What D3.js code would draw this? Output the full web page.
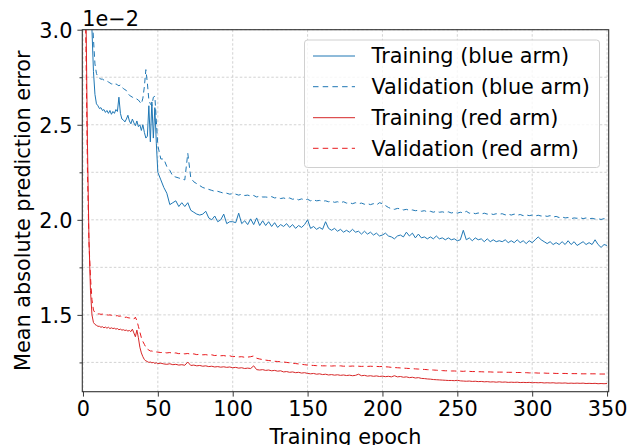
<!DOCTYPE html>
<html><head><meta charset="utf-8">
<script src="https://cdn.jsdelivr.net/npm/d3@7/dist/d3.min.js"></script>
<style>body{margin:0;background:#fff}svg{display:block}text{font-family:"DejaVu Sans",sans-serif;fill:#000}</style>
</head><body><svg id="c" width="640" height="445"></svg>
<script>
// epochs: 1..50 every epoch, then 52..350 every second epoch
const epochs = [];
for (let e = 1; e <= 50; e++) epochs.push(e);
for (let e = 52; e <= 350; e += 2) epochs.push(e);

const trainBlue = [
4.2,3.8,3.55,3.35,3.18,3.0,2.78,2.66,2.61,2.60,
2.585,2.59,2.575,2.58,2.565,2.575,2.56,2.575,2.555,2.57,
2.56,2.58,2.57,2.645,2.56,2.53,2.525,2.515,2.53,2.55,
2.52,2.505,2.53,2.51,2.495,2.52,2.49,2.50,2.47,2.50,
2.46,2.43,2.44,2.60,2.41,2.62,2.43,2.59,2.40,2.25,
2.21,2.17,2.14,2.08,2.09,2.10,2.07,2.09,2.07,2.09,
2.05,2.04,2.03,2.025,2.03,2.045,2.01,2.00,2.02,1.99,
2.00,2.03,1.98,1.99,1.99,1.985,2.035,1.98,1.995,1.975,
2.005,1.975,2.01,1.97,1.995,1.97,1.99,1.965,1.985,1.96,
1.975,1.965,1.98,1.96,1.975,1.955,1.97,1.96,1.975,2.0,
1.955,1.965,1.95,1.96,1.95,1.99,1.955,1.945,1.955,1.94,
1.95,1.935,1.945,1.935,1.95,1.935,1.94,1.925,1.94,1.925,
1.935,1.92,1.93,1.915,1.92,1.93,1.915,1.91,1.90,1.915,
1.92,1.91,1.935,1.915,1.93,1.905,1.925,1.905,1.91,1.90,
1.91,1.90,1.915,1.90,1.905,1.895,1.905,1.895,1.90,1.89,
1.895,1.945,1.895,1.905,1.89,1.905,1.895,1.90,1.885,1.90,
1.885,1.895,1.885,1.89,1.885,1.895,1.88,1.89,1.88,1.895,
1.88,1.89,1.875,1.89,1.88,1.895,1.91,1.895,1.885,1.875,
1.885,1.87,1.88,1.87,1.885,1.87,1.89,1.87,1.885,1.865,
1.875,1.885,1.87,1.88,1.87,1.895,1.87,1.855,1.87,1.865];

const valBlue = [
4.5,4.0,3.7,3.5,3.3,3.12,2.95,2.82,2.77,2.75,
2.745,2.74,2.74,2.735,2.73,2.73,2.725,2.72,2.715,2.715,
2.71,2.715,2.71,2.705,2.71,2.70,2.69,2.685,2.68,2.665,
2.655,2.65,2.645,2.64,2.64,2.635,2.63,2.62,2.61,2.64,
2.70,2.79,2.72,2.63,2.61,2.60,2.645,2.65,2.52,2.39,
2.32,2.32,2.28,2.26,2.23,2.225,2.22,2.215,2.21,2.35,
2.22,2.20,2.19,2.18,2.17,2.165,2.16,2.155,2.15,2.15,
2.145,2.14,2.14,2.135,2.138,2.135,2.13,2.135,2.128,2.13,
2.125,2.128,2.12,2.125,2.12,2.12,2.118,2.122,2.115,2.118,
2.112,2.115,2.11,2.115,2.108,2.112,2.105,2.11,2.105,2.108,
2.10,2.105,2.10,2.102,2.098,2.10,2.095,2.098,2.092,2.095,
2.09,2.095,2.088,2.09,2.085,2.09,2.085,2.088,2.082,2.085,
2.08,2.085,2.078,2.09,2.085,2.075,2.065,2.058,2.055,2.06,
2.058,2.052,2.055,2.05,2.052,2.048,2.05,2.045,2.048,2.042,
2.045,2.04,2.045,2.04,2.042,2.038,2.042,2.036,2.04,2.035,
2.04,2.036,2.045,2.035,2.038,2.032,2.036,2.03,2.035,2.03,
2.033,2.028,2.032,2.03,2.032,2.026,2.03,2.025,2.03,2.024,
2.028,2.022,2.026,2.022,2.025,2.02,2.024,2.02,2.022,2.018,
2.022,2.015,2.018,2.012,2.015,2.01,2.012,2.006,2.01,2.008,
2.012,2.006,2.01,2.005,2.008,2.004,2.006,2.002,2.006,2.008];

const trainRed = [
3.6,3.1,2.4,1.9,1.63,1.50,1.46,1.45,1.445,1.44,
1.44,1.435,1.438,1.432,1.436,1.43,1.435,1.428,1.432,1.428,
1.43,1.425,1.428,1.422,1.425,1.42,1.422,1.418,1.42,1.415,
1.418,1.412,1.425,1.405,1.385,1.42,1.38,1.33,1.30,1.28,
1.265,1.258,1.255,1.25,1.252,1.248,1.25,1.245,1.248,1.244,
1.246,1.242,1.24,1.243,1.238,1.24,1.236,1.238,1.235,1.252,
1.234,1.236,1.232,1.234,1.23,1.232,1.228,1.23,1.226,1.228,
1.225,1.227,1.224,1.226,1.222,1.224,1.22,1.222,1.218,1.22,
1.218,1.232,1.212,1.21,1.212,1.208,1.21,1.206,1.208,1.204,
1.206,1.2,1.202,1.198,1.2,1.196,1.198,1.194,1.196,1.192,
1.19,1.192,1.188,1.19,1.186,1.188,1.184,1.186,1.183,1.185,
1.182,1.184,1.181,1.183,1.18,1.182,1.188,1.18,1.182,1.178,
1.18,1.177,1.179,1.176,1.178,1.175,1.177,1.174,1.18,1.174,
1.176,1.172,1.174,1.17,1.172,1.168,1.17,1.166,1.165,1.163,
1.162,1.16,1.159,1.158,1.157,1.156,1.155,1.155,1.154,1.156,
1.153,1.152,1.151,1.152,1.15,1.151,1.149,1.15,1.148,1.149,
1.147,1.148,1.146,1.148,1.146,1.147,1.145,1.146,1.145,1.146,
1.144,1.145,1.144,1.145,1.143,1.144,1.143,1.144,1.142,1.143,
1.142,1.143,1.141,1.142,1.141,1.142,1.14,1.141,1.14,1.141,
1.14,1.141,1.139,1.14,1.139,1.14,1.138,1.139,1.138,1.139];

const valRed = [
3.4,2.9,2.25,1.88,1.70,1.58,1.525,1.512,1.508,1.505,
1.505,1.503,1.504,1.50,1.502,1.50,1.499,1.50,1.498,1.497,
1.497,1.495,1.496,1.493,1.494,1.49,1.49,1.487,1.488,1.485,
1.484,1.482,1.48,1.478,1.488,1.47,1.44,1.41,1.38,1.36,
1.345,1.33,1.32,1.315,1.31,1.31,1.308,1.306,1.305,1.304,
1.302,1.303,1.30,1.302,1.298,1.30,1.296,1.298,1.295,1.297,
1.293,1.295,1.291,1.293,1.29,1.291,1.288,1.29,1.286,1.288,
1.285,1.286,1.283,1.285,1.28,1.282,1.279,1.28,1.277,1.278,
1.28,1.284,1.272,1.268,1.265,1.262,1.26,1.258,1.256,1.255,
1.253,1.252,1.25,1.248,1.246,1.244,1.242,1.24,1.238,1.236,
1.235,1.234,1.233,1.233,1.232,1.232,1.232,1.231,1.232,1.231,
1.232,1.23,1.231,1.23,1.231,1.23,1.23,1.229,1.23,1.229,
1.23,1.229,1.229,1.228,1.229,1.227,1.226,1.224,1.223,1.222,
1.221,1.22,1.219,1.218,1.217,1.216,1.215,1.214,1.213,1.212,
1.211,1.21,1.209,1.208,1.207,1.206,1.206,1.205,1.205,1.204,
1.204,1.203,1.205,1.203,1.202,1.202,1.201,1.201,1.2,1.2,
1.2,1.199,1.199,1.199,1.199,1.198,1.198,1.198,1.197,1.197,
1.197,1.196,1.196,1.195,1.195,1.195,1.194,1.194,1.194,1.193,
1.193,1.193,1.192,1.192,1.192,1.192,1.191,1.191,1.191,1.191,
1.19,1.19,1.19,1.19,1.19,1.19,1.189,1.189,1.189,1.189];

const xTicks = [0,50,100,150,200,250,300,350];
const yTicks = [1.5,2.0,2.5,3.0];
const yMinor = [1.25,1.75,2.25,2.75];
const seriesNames = ["Training (blue arm)","Validation (blue arm)","Training (red arm)","Validation (red arm)"];
const seriesData = [trainBlue, valBlue, trainRed, valRed];
const colors = ["#1f77b4","#1f77b4","#d62728","#e8191d"];
const dashed = [false,true,false,true];

const FS = "20.8px";
const L=82.3, R=608.7, T=29.7, B=391.7;
const svg = d3.select("#c");
const x = d3.scaleLinear().domain([-0.45,351.1]).range([L,R]);
const y = d3.scaleLinear().domain([1.096,3.0]).range([B,T]);

svg.append("defs").append("clipPath").attr("id","clip")
  .append("rect").attr("x",L).attr("y",T).attr("width",R-L).attr("height",B-T);

// grid
const g = svg.append("g");
g.selectAll(".vg").data(xTicks).enter().append("line")
  .attr("x1",d=>x(d)).attr("x2",d=>x(d)).attr("y1",T).attr("y2",B)
  .attr("stroke","#c8c8c8").attr("stroke-width",0.8).attr("stroke-dasharray","2.5,2");
g.selectAll(".hg").data(yTicks.concat(yMinor)).enter().append("line")
  .attr("x1",L).attr("x2",R).attr("y1",d=>y(d)).attr("y2",d=>y(d))
  .attr("stroke","#c8c8c8").attr("stroke-width",0.8).attr("stroke-dasharray","2.5,2");

// lines
const line = d3.line().x((d,i)=>x(epochs[i])).y(d=>y(d));
const lg = svg.append("g").attr("clip-path","url(#clip)");
seriesData.forEach((s,k)=>{
  lg.append("path").attr("d",line(s)).attr("fill","none")
    .attr("stroke",colors[k]).attr("stroke-width",1)
    .attr("stroke-linejoin","round")
    .attr("stroke-dasharray",dashed[k]?"5.5,3.8":null);
});

// axes
const xAxis = d3.axisBottom(x).tickValues(xTicks).tickSize(4.9).tickPadding(5).tickFormat(d3.format("d"));
const xa = svg.append("g").attr("transform",`translate(0,${B})`).call(xAxis);
const yAxis = d3.axisLeft(y).tickValues(yTicks).tickSize(4.9).tickPadding(5).tickFormat(d3.format(".1f"));
const ya = svg.append("g").attr("transform",`translate(${L},0)`).call(yAxis);
const yAxisMinor = d3.axisLeft(y).tickValues(yMinor).tickSize(2.8).tickFormat("");
const ym = svg.append("g").attr("transform",`translate(${L},0)`).call(yAxisMinor);
[xa,ya,ym].forEach(a=>{
  a.select(".domain").remove();
  a.selectAll(".tick line").attr("stroke","#222").attr("stroke-width",0.9);
  a.selectAll(".tick text").attr("font-size",FS).attr("font-family","DejaVu Sans").attr("fill","#000");
});
ya.selectAll(".tick text").attr("dy","0.36em");

// frame
svg.append("rect").attr("x",L).attr("y",T).attr("width",R-L).attr("height",B-T)
  .attr("fill","none").attr("stroke","#333").attr("stroke-width",1.1);

// offset text
svg.append("text").attr("x",L).attr("y",26).attr("font-size",FS).text("1e\u22122");

// axis labels
svg.append("text").attr("x",(L+R)/2).attr("y",444).attr("text-anchor","middle")
  .attr("font-size",FS).text("Training epoch");
svg.append("text").attr("transform",`translate(30,${(T+B)/2}) rotate(-90)`).attr("text-anchor","middle")
  .attr("font-size",FS).text("Mean absolute prediction error");

// legend
const leg = svg.append("g");
leg.append("rect").attr("x",304.5).attr("y",40).attr("width",295).attr("height",127.5)
  .attr("rx",3).attr("fill","#fff").attr("fill-opacity",0.8).attr("stroke","#d0d0d0").attr("stroke-width",1);
const rowY = [56,86.7,117.7,148.3];
seriesNames.forEach((n,k)=>{
  leg.append("line").attr("x1",313).attr("x2",355).attr("y1",rowY[k]).attr("y2",rowY[k])
    .attr("stroke",colors[k]).attr("stroke-width",1)
    .attr("stroke-dasharray",dashed[k]?"5.5,4.2":null);
  leg.append("text").attr("x",371.5).attr("y",rowY[k]).attr("dy","0.36em")
    .attr("font-size",FS).text(n);
});
</script></body></html>
